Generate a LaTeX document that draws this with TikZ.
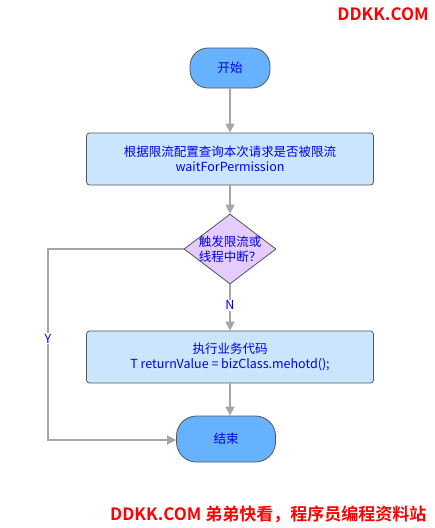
\documentclass[tikz,border=0pt]{standalone}
\usepackage{fontspec}
\setmainfont{Noto Sans CJK SC}
\newfontfamily\wmfont{Noto Sans CJK SC Bold}
\usetikzlibrary{shapes.geometric,arrows.meta}
\definecolor{termfill}{HTML}{66B2FF}
\definecolor{procfill}{HTML}{CCE5FF}
\definecolor{decfill}{HTML}{E5CCFF}
\definecolor{edgegray}{HTML}{A6A6A6}
\definecolor{bordergray}{HTML}{555555}
\definecolor{txtblue}{HTML}{0000EE}
\tikzset{
  base/.style={draw=bordergray, line width=0.8pt, text=txtblue, font=\fontsize{12.5}{15}\selectfont, align=center, inner sep=0pt},
  term/.style={base, fill=termfill, rounded corners=18pt, minimum width=80pt, minimum height=40pt},
  endterm/.style={base, fill=termfill, rounded corners=20pt, minimum width=99pt, minimum height=46pt},
  proc/.style={base, fill=procfill, rounded corners=3pt, minimum width=287pt, minimum height=52pt},
  dec/.style={base, fill=decfill, diamond, minimum width=92pt, minimum height=70pt, aspect=1.3, inner sep=-14pt},
  flow/.style={draw=edgegray, line width=1.5pt, -{Triangle[length=9pt,width=9pt,fill=edgegray]}},
  lbl/.style={text=txtblue, font=\fontsize{12.5}{15}\selectfont, fill=white, inner sep=1pt},
  wm/.style={text=red, font=\wmfont\fontsize{17}{19}\selectfont, inner sep=0pt}
}
\begin{document}
\begin{tikzpicture}[x=1pt,y=-1pt]
\useasboundingbox (0,0) rectangle (435,528);
\node[wm] (wmtop) at (383,14) {DDKK.COM};
\node[term] (start) at (230,68) {开始};
\node[proc] (query) at (230,159) {根据限流配置查询本次请求是否被限流\\waitForPermission};
\node[dec] (check) at (230,249) {触发限流或\\线程中断？};
\node[proc] (exec) at (230,357) {执行业务代码\\T returnValue = bizClass.mehotd();};
\node[endterm] (finish) at (226,439) {结束};
\coordinate (ycorner1) at (48,249);
\coordinate (ycorner2) at (48,440);
\draw[flow] (start) -- (query);
\draw[flow] (query) -- (check);
\draw[flow] (check) -- node[lbl, pos=0.45] (nlabel) {N} (exec);
\draw[flow] (exec.south) -- (exec.south |- finish.north);
\draw[flow] (check.west) -- (ycorner1) -- node[lbl, pos=0.47] (ylabel) {Y} (ycorner2) -- (finish.west |- ycorner2);
\node[wm, anchor=west] (wmbottom) at (110,514) {DDKK.COM 弟弟快看，程序员编程资料站};
\end{tikzpicture}
\end{document}
